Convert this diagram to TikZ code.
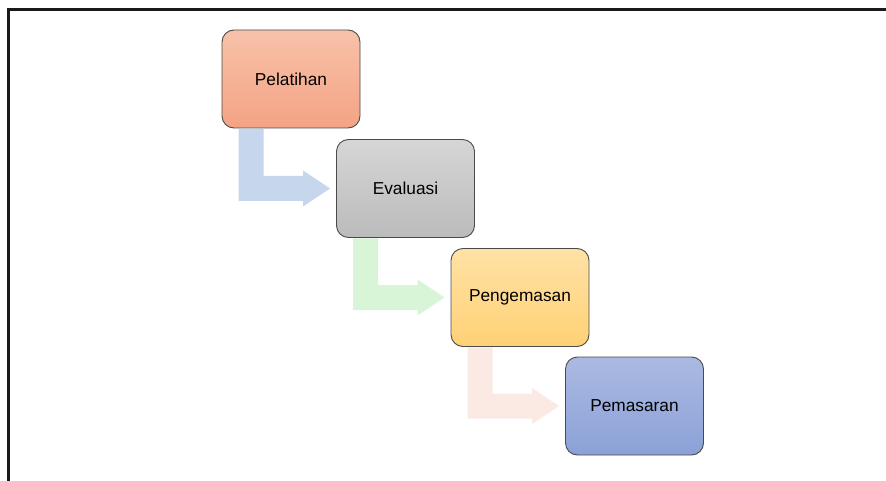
\documentclass[tikz,border=0pt]{standalone}
\usepackage{fontspec}
\setmainfont{Liberation Sans}
\usetikzlibrary{calc}
\definecolor{pelA}{HTML}{F7C2AA}
\definecolor{pelB}{HTML}{F4A383}
\definecolor{evaA}{HTML}{D6D6D6}
\definecolor{evaB}{HTML}{BBBBBB}
\definecolor{penA}{HTML}{FFE2A6}
\definecolor{penB}{HTML}{FFD175}
\definecolor{pemA}{HTML}{ABBAE2}
\definecolor{pemB}{HTML}{8BA1D7}
\definecolor{arrBlue}{HTML}{C6D6EC}
\definecolor{arrGreen}{HTML}{D8F5D7}
\definecolor{arrPink}{HTML}{FBE9E4}
\definecolor{edge}{HTML}{4A4A4A}
\tikzset{
  stepbox/.style={draw=edge, line width=0.9pt, rounded corners=12pt,
    minimum width=138pt, minimum height=98pt, inner sep=0pt,
    font=\fontsize{17.3}{20}\selectfont},
  frameline/.style={line width=3pt, draw=black!90}
}
\newcommand{\bentarrow}[3]{%
  \fill[#3] let \p1=(#1.south west), \p2=(#2.west) in
    (\x1+17pt,\y1-0.5pt) -- (\x1+42pt,\y1-0.5pt) -- (\x1+42pt,\y2+12.5pt)
    -- (\x2-33pt,\y2+12.5pt) -- (\x2-33pt,\y2+18pt) -- (\x2-6pt,\y2)
    -- (\x2-33pt,\y2-18pt) -- (\x2-33pt,\y2-12.5pt) -- (\x1+17pt,\y2-12.5pt) -- cycle;}
\begin{document}
\begin{tikzpicture}[x=1pt,y=-1pt]
\useasboundingbox (0,0) rectangle (886,481);
\coordinate (tl) at (8,10);
\coordinate (tr) at (886,10);
\coordinate (bl) at (8,481);
\draw[frameline] (tr) -- (tl) -- (bl);
\node[stepbox, top color=pelA, bottom color=pelB] (b1) at (291,79) {Pelatihan};
\node[stepbox, top color=evaA, bottom color=evaB] (b2) at (405.5,188.5) {Evaluasi};
\node[stepbox, top color=penA, bottom color=penB] (b3) at (520,297.5) {Pengemasan};
\node[stepbox, top color=pemA, bottom color=pemB] (b4) at (634.5,406) {Pemasaran};
\bentarrow{b1}{b2}{arrBlue}
\bentarrow{b2}{b3}{arrGreen}
\bentarrow{b3}{b4}{arrPink}
\end{tikzpicture}
\end{document}
